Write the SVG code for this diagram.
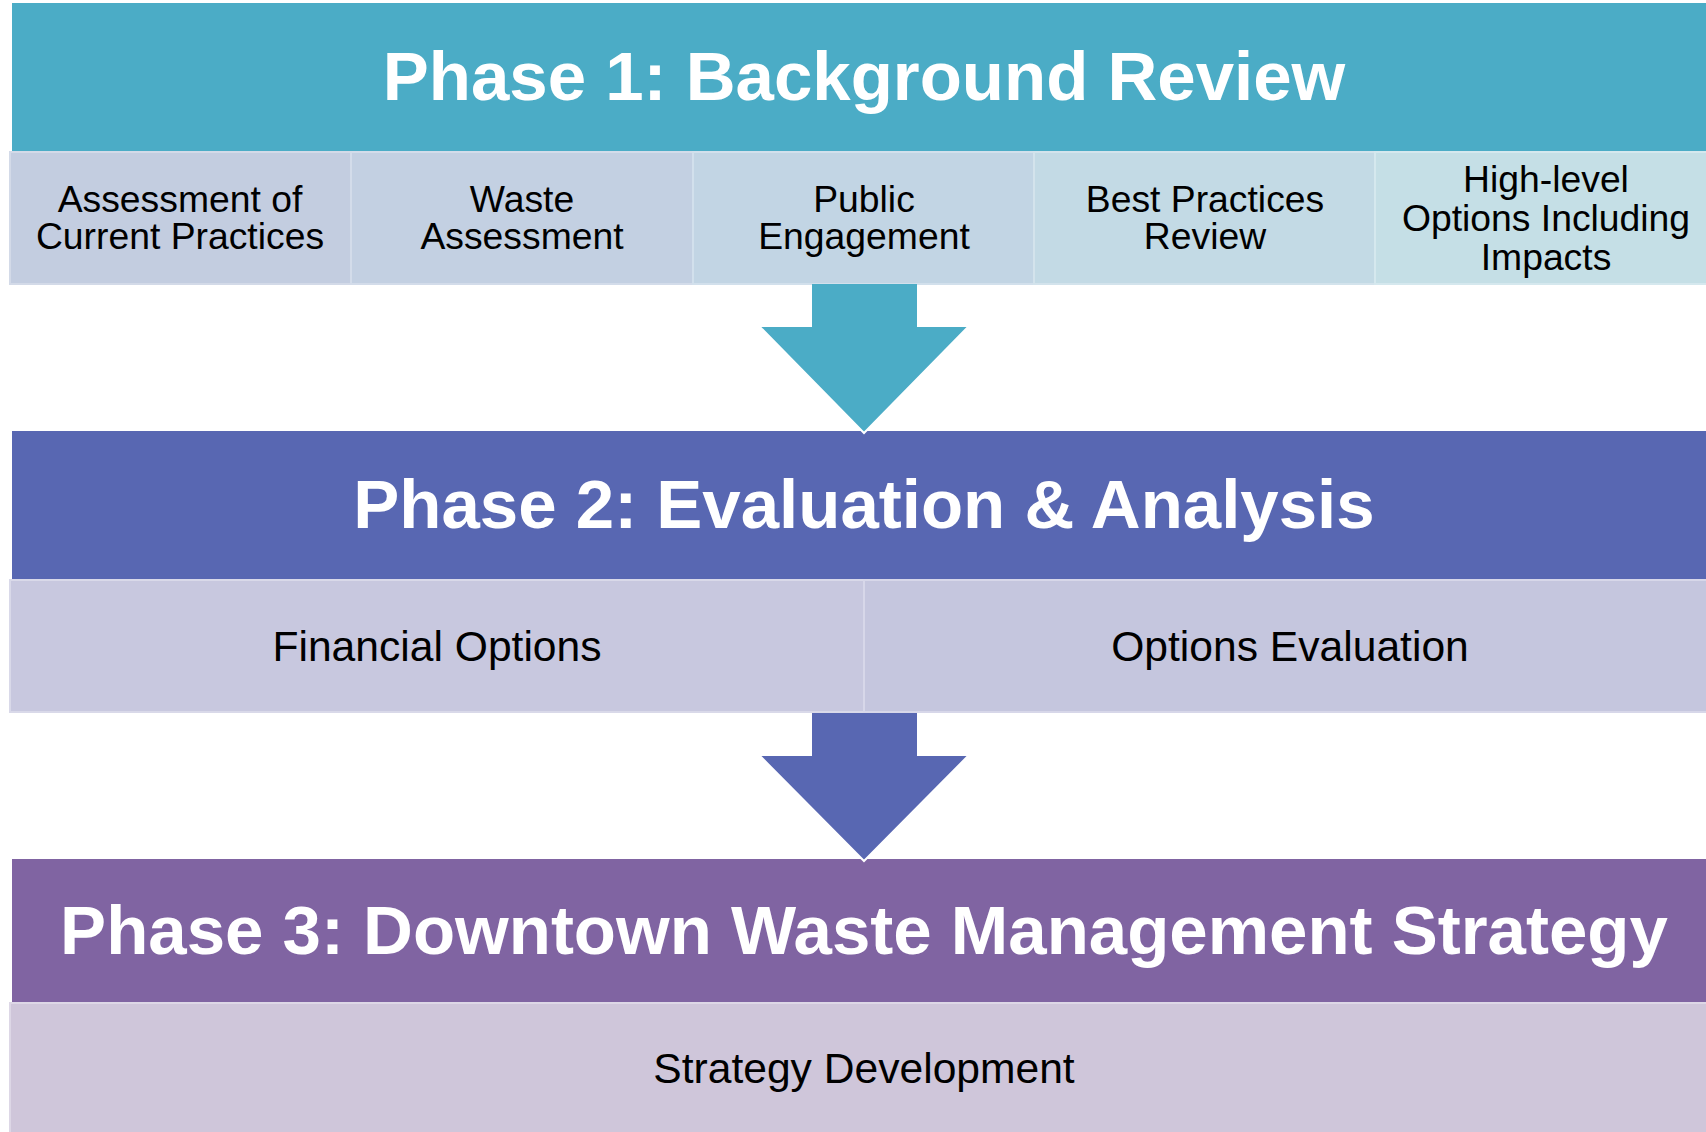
<svg xmlns="http://www.w3.org/2000/svg" width="1706" height="1132" viewBox="0 0 1706 1132">
  <style>
    .title { font-family: "Liberation Sans", Arial, sans-serif; font-weight: bold; font-size: 69px; fill: #FFFFFF; text-anchor: middle; }
    .label { font-family: "Liberation Sans", Arial, sans-serif; font-size: 37.3px; fill: #000000; text-anchor: middle; }
    .label-lg { font-family: "Liberation Sans", Arial, sans-serif; font-size: 42.6px; fill: #000000; text-anchor: middle; }
    .cell { stroke-width: 2; }
  </style>
  <rect x="0" y="0" width="1706" height="1132" fill="#FFFFFF"/>

  <g id="phase1">
    <rect x="12" y="3" width="1704" height="149" fill="#4BACC6"/>
    <text class="title" x="864" y="100">Phase 1: Background Review</text>
  </g>
  <g id="assessment-current">
    <rect class="cell" x="10" y="152" width="341" height="132" fill="#C3CDE0" stroke="#D3DAE8"/>
    <text class="label"><tspan x="180" y="212">Assessment of</tspan><tspan x="180" y="249">Current Practices</tspan></text>
  </g>
  <g id="waste-assessment">
    <rect class="cell" x="351" y="152" width="342" height="132" fill="#C3D0E2" stroke="#D3DCEA"/>
    <text class="label"><tspan x="522" y="212">Waste</tspan><tspan x="522" y="249">Assessment</tspan></text>
  </g>
  <g id="public-engagement">
    <rect class="cell" x="693" y="152" width="341" height="132" fill="#C2D5E4" stroke="#D2E0EC"/>
    <text class="label"><tspan x="864" y="212">Public</tspan><tspan x="864" y="249">Engagement</tspan></text>
  </g>
  <g id="best-practices">
    <rect class="cell" x="1034" y="152" width="341" height="132" fill="#C3DAE5" stroke="#D3E3EC"/>
    <text class="label"><tspan x="1205" y="212">Best Practices</tspan><tspan x="1205" y="249">Review</tspan></text>
  </g>
  <g id="high-level-options">
    <rect class="cell" x="1375" y="152" width="341" height="132" fill="#C5DFE6" stroke="#D5E8EE"/>
    <text class="label"><tspan x="1546" y="192">High-level</tspan><tspan x="1546" y="231">Options Including</tspan><tspan x="1546" y="270">Impacts</tspan></text>
  </g>

  <g id="phase2">
    <rect x="12" y="431" width="1704" height="149" fill="#5867B2"/>
    <text class="title" x="864" y="528">Phase 2: Evaluation &amp; Analysis</text>
  </g>
  <g id="financial-options">
    <rect class="cell" x="10" y="580" width="854" height="132" fill="#C8C8DF" stroke="#D9D9E9"/>
    <text class="label-lg" x="437" y="661">Financial Options</text>
  </g>
  <g id="options-evaluation">
    <rect class="cell" x="864" y="580" width="852" height="132" fill="#C5C6DE" stroke="#D7D7E9"/>
    <text class="label-lg" x="1290" y="661">Options Evaluation</text>
  </g>

  <g id="phase3">
    <rect x="12" y="859" width="1704" height="144" fill="#8064A2"/>
    <text class="title" x="864" y="954">Phase 3: Downtown Waste Management Strategy</text>
  </g>
  <g id="strategy-development">
    <rect class="cell" x="10" y="1003" width="1706" height="132" fill="#CFC6DA" stroke="#DDD7E6"/>
    <text class="label-lg" x="864" y="1083">Strategy Development</text>
  </g>

  <g id="connectors">
    <polygon points="812,284 917,284 917,327 968,327 864,433 760,327 812,327" fill="#4BACC6"/>
    <polyline points="760,327 864,433 968,327" fill="none" stroke="#FFFFFF" stroke-width="2" stroke-linejoin="miter"/>
    <polygon points="812,713 917,713 917,756 968,756 864,861 760,756 812,756" fill="#5867B2"/>
    <polyline points="760,756 864,861 968,756" fill="none" stroke="#FFFFFF" stroke-width="2" stroke-linejoin="miter"/>
  </g>
</svg>
